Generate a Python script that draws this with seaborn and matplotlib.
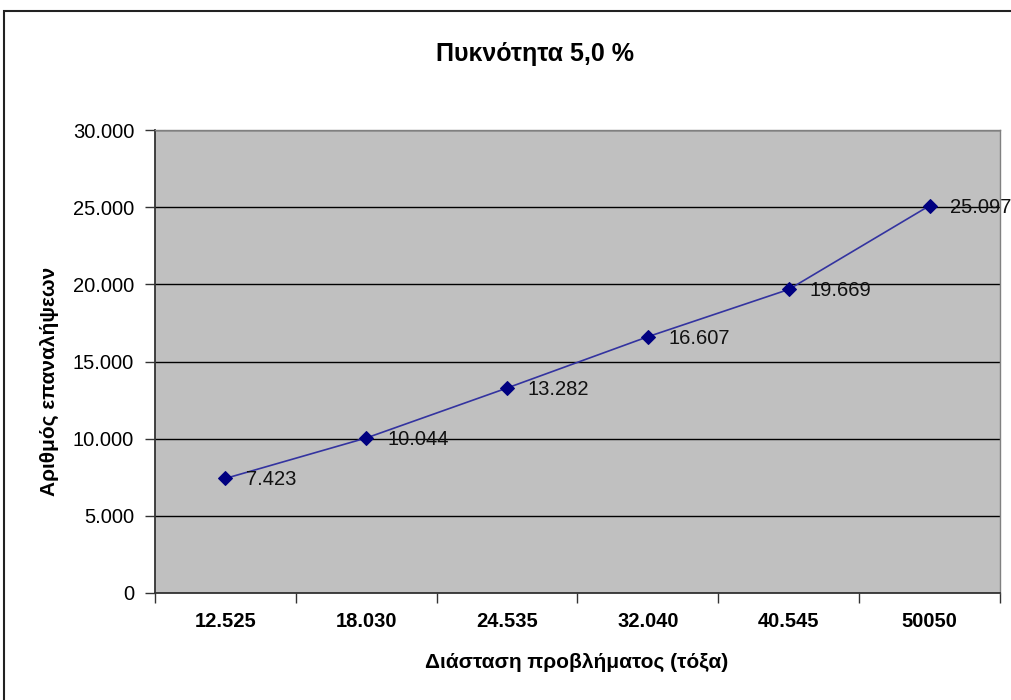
import numpy as np
import pandas as pd
import matplotlib
matplotlib.use("Agg")
import matplotlib.pyplot as plt
from matplotlib.patches import Rectangle
from matplotlib.ticker import FuncFormatter, FixedLocator
import seaborn as sns

# Data
categories = ["12.525", "18.030", "24.535", "32.040", "40.545", "50050"]
iterations = [7423, 10044, 13282, 16607, 19669, 25097]

title = "Πυκνότητα 5,0 %"
x_label = "Διάσταση προβλήματος (τόξα)"
y_label = "Αριθμός επαναλήψεων"

sns.set_theme(style="white")
plt.rcParams["font.family"] = ["Liberation Sans", "DejaVu Sans"]
plt.rcParams["text.color"] = "black"
plt.rcParams["axes.labelcolor"] = "black"
plt.rcParams["xtick.color"] = "black"
plt.rcParams["ytick.color"] = "black"

df = pd.DataFrame({"pos": np.arange(len(categories)), "value": iterations})

fig = plt.figure(figsize=(10.12, 7.0), dpi=100)
ax = fig.add_axes([155 / 1012, 1 - 593 / 700, (1000 - 155) / 1012, (593 - 130) / 700])
ax.set_facecolor("#C0C0C0")

sns.lineplot(data=df, x="pos", y="value", ax=ax, color="#3333A0", linewidth=1.2,
             marker="D", markersize=7, markerfacecolor="#000080",
             markeredgecolor="#000080", zorder=3)

for x, v in zip(df["pos"], df["value"]):
    ax.annotate(f"{v:,}".replace(",", "."), (x, v), xytext=(15, -1),
                textcoords="offset points", ha="left", va="center",
                fontsize=14.5, color="#111111", zorder=4)

ax.set_xlim(-0.5, len(categories) - 0.5)
ax.set_ylim(0, 30000)
ax.set_yticks(np.arange(0, 30001, 5000))
ax.yaxis.set_major_formatter(FuncFormatter(lambda v, p: f"{int(v):,}".replace(",", ".")))
ax.grid(axis="y", color="black", linewidth=1.0)
ax.grid(axis="x", visible=False)

ax.set_xticks(np.arange(len(categories)))
ax.set_xticklabels(categories, fontsize=14.5, fontweight="bold")
ax.xaxis.set_minor_locator(FixedLocator(np.arange(-0.5, len(categories), 1.0)))
ax.tick_params(axis="x", which="major", length=0, pad=14)
ax.tick_params(axis="x", which="minor", length=7, width=1, color="#333333", direction="out", bottom=True)
ax.tick_params(axis="y", which="major", length=7, width=1, color="#333333", direction="out",
               left=True, labelsize=14.5, pad=8)

for side in ["left", "bottom"]:
    ax.spines[side].set_color("#333333")
    ax.spines[side].set_linewidth(1.3)
for side in ["right", "top"]:
    ax.spines[side].set_color("#808080")
    ax.spines[side].set_linewidth(1.0)

ax.set_xlabel(x_label, fontsize=15, fontweight="bold")
ax.set_ylabel(y_label, fontsize=15, fontweight="bold")
ax.xaxis.set_label_coords((577 - 155) / 845, -(662 - 593) / 463)
ax.yaxis.set_label_coords(-(155 - 49) / 845, (593 - 381) / 463)
ax.xaxis.label.set_va("center")
ax.yaxis.label.set_va("center")

fig.text(535 / 1012, 1 - 54 / 700, title, ha="center", va="center",
         fontsize=18, fontweight="bold")

# Chart-area frame
fig.patches.append(Rectangle((4 / 1012, -0.05), 1.2, 1.05 - 11 / 700,
                             transform=fig.transFigure, fill=False,
                             edgecolor="#222222", linewidth=1.5))

fig.savefig("out.png", dpi=100)
